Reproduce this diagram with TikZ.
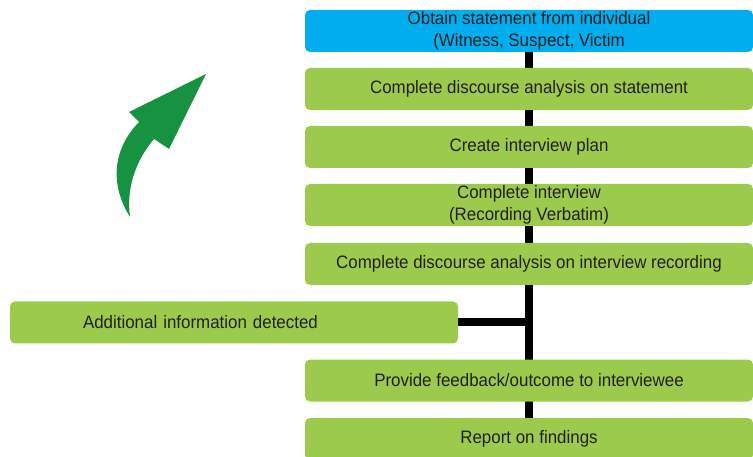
\documentclass[tikz,border=0pt]{standalone}
\usepackage{fontspec}
\setmainfont{Liberation Sans}[FakeStretch=0.94]
\usetikzlibrary{backgrounds}
\definecolor{boxblue}{RGB}{0,174,239}
\definecolor{boxgreen}{RGB}{155,202,76}
\definecolor{arrowgreen}{RGB}{22,146,64}
\definecolor{inktext}{RGB}{35,31,32}
\begin{document}
\begin{tikzpicture}[x=1pt,y=-1pt,
  stepbox/.style={fill=boxgreen, rounded corners=5pt, minimum width=448pt,
    minimum height=42pt, inner sep=0pt, align=center, text=inktext,
    font=\fontsize{18}{21.6}\selectfont},
  startbox/.style={stepbox, fill=boxblue},
  spine/.style={line width=8pt, black}
]
\useasboundingbox (0,0) rectangle (753,457);

% main sequence of steps
\node[startbox] (obtain)   at (529,31)  {Obtain statement from individual\\(Witness, Suspect, Victim};
\node[stepbox]  (analyse)  at (529,89)  {Complete discourse analysis on statement};
\node[stepbox]  (plan)     at (529,147) {Create interview plan};
\node[stepbox]  (interview) at (529,205) {Complete interview\\(Recording Verbatim)};
\node[stepbox]  (recanal)  at (529,264) {Complete discourse analysis on interview recording};
\node[stepbox, text width=302pt, inner xsep=73pt, align=left] (extra) at (234,322.5) {Additional information detected};
\node[stepbox]  (feedback) at (529,380.5) {Provide feedback/outcome to interviewee};
\node[stepbox]  (report)   at (529,439) {Report on findings};

% connecting spine and branch, behind the boxes
\begin{scope}[on background layer]
  \draw[spine] (obtain.center) -- (report.center);
  \draw[spine] (extra.east) -- (extra.east -| obtain.center);
\end{scope}

% curved green arrow
\fill[arrowgreen] (130,217) .. controls (110,185) and (112,150) .. (139,122)
  -- (129,112) -- (206,74) -- (169,149) -- (154,139)
  .. controls (136,160) and (126,188) .. (130,217) -- cycle;
\end{tikzpicture}
\end{document}
